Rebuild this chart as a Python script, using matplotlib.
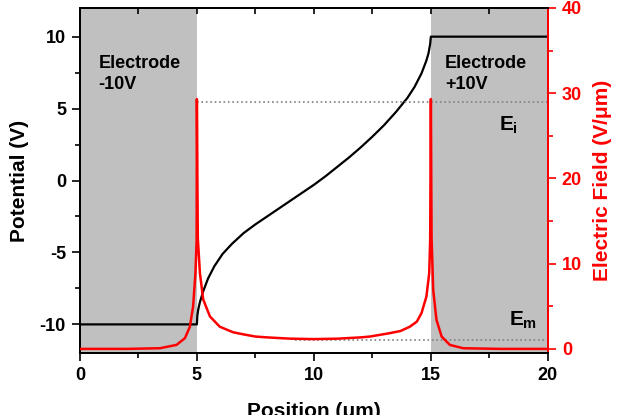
import matplotlib
matplotlib.use("Agg")
import matplotlib.pyplot as plt
from matplotlib.ticker import MultipleLocator

plt.rcParams['font.family'] = ['Liberation Sans', 'DejaVu Sans']
plt.rcParams['font.weight'] = 'bold'
plt.rcParams['axes.labelweight'] = 'bold'
plt.rcParams['axes.unicode_minus'] = False
plt.rcParams['mathtext.fontset'] = 'custom'
plt.rcParams['mathtext.rm'] = 'Liberation Sans:bold'
plt.rcParams['mathtext.it'] = 'Liberation Sans:bold'
plt.rcParams['mathtext.bf'] = 'Liberation Sans:bold'

# potential (V) vs position (um)
pos_v = [0, 5.0, 5.02, 5.06, 5.13, 5.27, 5.48, 5.75, 6.1, 6.5, 7.0, 7.5, 8.0, 8.5, 9.0,
         9.5, 10.0, 10.5, 11.0, 11.5, 12.0, 12.5, 13.0, 13.5, 14.0, 14.3, 14.6, 14.8,
         14.9, 14.97, 15.0, 20]
potential = [-10, -10, -9.4, -8.95, -8.45, -7.7, -6.8, -5.95, -5.1, -4.4, -3.65, -3.05,
             -2.5, -1.95, -1.4, -0.85, -0.3, 0.3, 0.95, 1.6, 2.3, 3.05, 3.85, 4.75, 5.75,
             6.5, 7.45, 8.3, 8.85, 9.5, 10, 10]

# electric field (V/um) vs position (um)
pos_e = [0, 2.0, 3.42, 4.13, 4.49, 4.70, 4.84, 4.94, 4.99, 5.0, 5.04, 5.13, 5.27, 5.56,
         5.98, 6.55, 7.0, 7.5, 8.0, 9.0, 10.0, 11.0, 12.0, 12.4, 13.25, 13.7, 14.1, 14.4,
         14.6, 14.81, 14.93, 14.97, 15.0, 15.03, 15.10, 15.24, 15.46, 15.81, 16.38, 18.0, 20.0]
field = [0, 0, 0.08, 0.47, 1.26, 2.6, 5.0, 8.9, 12.8, 29.3, 13.0, 8.9, 5.8, 3.8,
         2.6, 1.95, 1.7, 1.45, 1.35, 1.2, 1.15, 1.2, 1.35, 1.45, 1.85, 2.1, 2.6, 3.2,
         4.2, 6.15, 8.9, 12.8, 29.3, 13.0, 6.9, 3.4, 1.45, 0.47, 0.08, 0, 0]

e_i = 29.0
e_m = 1.05

fig = plt.figure(figsize=(6.24, 4.15), dpi=100)
ax = fig.add_axes([0.128, 0.149, 0.75, 0.832])
ax2 = ax.twinx()

ax.axvspan(0, 5, color='#c0c0c0', lw=0, zorder=0)
ax.axvspan(15, 20, color='#c0c0c0', lw=0, zorder=0)
ax.plot(pos_v, potential, color='black', lw=1.6, zorder=3)

ax2.plot(pos_e, field, color='#ff0000', lw=1.8, zorder=3)
ax2.plot([5, 20], [e_i, e_i], color='#808080', ls=':', lw=1.2)
ax2.plot([9.2, 20], [e_m, e_m], color='#808080', ls=':', lw=1.2)

ax.set_xlim(0, 20)
ax.set_ylim(-12, 12)
ax2.set_ylim(-0.5, 40)

ax.xaxis.set_major_locator(MultipleLocator(5))
ax.xaxis.set_minor_locator(MultipleLocator(2.5))
ax.yaxis.set_major_locator(MultipleLocator(5))
ax.yaxis.set_minor_locator(MultipleLocator(2.5))
ax2.yaxis.set_major_locator(MultipleLocator(10))
ax2.yaxis.set_minor_locator(MultipleLocator(5))

ax.tick_params(which='major', direction='out', length=6, width=1.2, labelsize=13, pad=4)
ax.tick_params(which='minor', direction='out', length=3.5, width=1.2)
ax2.tick_params(which='major', direction='out', length=6, width=1.2, labelsize=13,
                colors='#ff0000', pad=4)
ax2.tick_params(which='minor', direction='out', length=3.5, width=1.2, colors='#ff0000')

top = ax.secondary_xaxis('top')
top.xaxis.set_major_locator(MultipleLocator(2.5))
top.tick_params(direction='in', length=4, width=1.2, labeltop=False)

for s in ax.spines.values():
    s.set_linewidth(1.4)
for s in ax2.spines.values():
    s.set_linewidth(1.4)
ax2.spines['right'].set_color('#ff0000')
top.spines['top'].set_linewidth(1.4)

ax.set_xlabel('Position (μm)', fontsize=15, labelpad=13)
ax.set_ylabel('Potential (V)', fontsize=15, labelpad=8)
ax2.set_ylabel('Electric Field (V/μm)', fontsize=15, color='#ff0000', labelpad=8)

ax.text(0.8, 8.7, 'Electrode\n-10V', fontsize=13, ha='left', va='top', linespacing=1.25)
ax.text(15.6, 8.7, 'Electrode\n+10V', fontsize=13, ha='left', va='top', linespacing=1.25)
ax2.text(17.9, 26.2, r'$E_i$', fontsize=15, ha='left', va='center')
ax2.text(18.35, 3.3, r'$E_m$', fontsize=15, ha='left', va='center')

fig.savefig('out.png', dpi=100)
